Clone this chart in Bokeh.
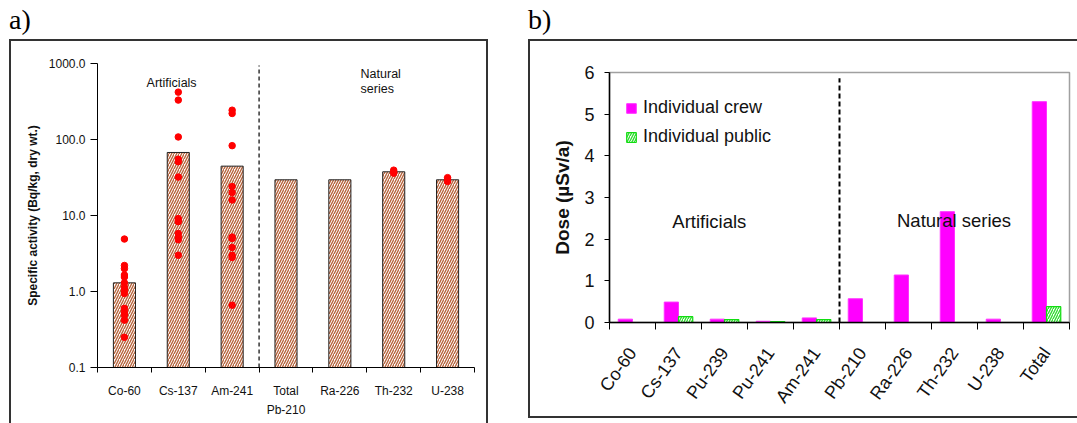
from bokeh.plotting import figure
from bokeh.layouts import row, column
from bokeh.models import Div, Range1d, FixedTicker, NumeralTickFormatter, Legend, LegendItem
from bokeh.core.properties import value
from bokeh.embed import file_html
from bokeh.resources import INLINE

FONT = "Liberation Sans"

# ---- a) specific activity in sediment samples ----
activity_nuclides = ["Co-60", "Cs-137", "Am-241", "Total\nPb-210", "Ra-226", "Th-232", "U-238"]
activity_mean = [1.3, 67.5, 44.6, 29.5, 29.5, 37.6, 29.5]
co60_samples = [4.9, 2.2, 2.0, 1.65, 1.55, 1.3, 1.13, 1.04, 0.94, 0.60, 0.54, 0.49, 0.42, 0.25]
cs137_samples = [420, 330, 108, 55, 51, 32, 9.1, 8.7, 8.3, 5.8, 5.2, 4.8, 3.0]
am241_samples = [243, 220, 83, 24, 20, 16, 5.2, 5.0, 3.8, 3.0, 2.8, 0.66]
th232_samples = [39.5, 37.5, 36.0]
u238_samples = [31.5, 30.0, 28.0]
activity_ticks = [0.1, 1, 10, 100, 1000]

# ---- b) annual dose ----
dose_nuclides = ["Co-60", "Cs-137", "Pu-239", "Pu-241", "Am-241",
                 "Pb-210", "Ra-226", "Th-232", "U-238", "Total"]
dose_crew = [0.08, 0.49, 0.08, 0.03, 0.11, 0.57, 1.14, 2.66, 0.08, 5.3]
dose_public = [0, 0.14, 0.07, 0.02, 0.07, 0, 0, 0, 0, 0.38]
dose_ticks = [0, 1, 2, 3, 4, 5, 6]


def style_axes(p):
    p.xgrid.visible = False
    p.ygrid.visible = False
    for ax in (p.xaxis[0], p.yaxis[0]):
        ax.major_label_text_font = FONT
        ax.axis_label_text_font = FONT
        ax.major_label_text_color = "#111111"
        ax.axis_label_text_color = "#111111"
        ax.axis_line_color = "black"
        ax.major_tick_line_color = "black"
        ax.minor_tick_line_color = "black"
        ax.major_tick_in = 0
        ax.minor_tick_in = 0


# ================= panel a =================
pa = figure(width=479, height=384, x_range=Range1d(0, 7), y_range=Range1d(0.1, 1000),
            y_axis_type="log", output_backend="svg", toolbar_location=None,
            min_border_left=88, min_border_right=14, min_border_top=24, min_border_bottom=56,
            border_fill_color=None, background_fill_color="white", outline_line_color=None,
            margin=(0, 40, 0, 9),
            styles={"box-shadow": "inset 2px 0 0 0 #333333, inset -2px 0 0 0 #333333, inset 0 2px 0 0 #333333"})
style_axes(pa)

xa = [i + 0.5 for i in range(len(activity_nuclides))]
pa.vbar(x=xa, top=activity_mean, bottom=0.1, width=0.41,
        fill_color="white", hatch_pattern="/", hatch_color="#b8643c", hatch_scale=5,
        hatch_weight=1.4, line_color="#222222", line_width=1)

samples = [co60_samples, cs137_samples, am241_samples, [], [], th232_samples, u238_samples]
px, py = [], []
for xc, vals in zip(xa, samples):
    px += [xc] * len(vals)
    py += vals
pa.scatter(x=px, y=py, size=6.5, color="#ff0000", line_color="#ff0000")

pa.segment(x0=[3], y0=[0.1], x1=[3], y1=[940], line_color="black", line_width=1.2, line_dash="4 3")

pa.text(x=[1.376], y=[562], text=["Artificials"], text_align="center", text_baseline="middle",
        text_font=value(FONT), text_font_size="12.5px", text_color="#111111")
pa.text(x=[4.885, 4.885], y=[738, 455], text=["Natural", "series"], text_align="left",
        text_baseline="middle", text_font=value(FONT), text_font_size="12.5px", text_color="#111111")

ya = pa.yaxis[0]
ya.ticker = FixedTicker(ticks=activity_ticks)
ya.formatter = NumeralTickFormatter(format="0.0")
ya.major_tick_out = 7
ya.minor_tick_line_color = None
ya.major_label_text_font_size = "12px"
ya.major_label_standoff = 5
ya.axis_label = "Specific activity (Bq/kg, dry wt.)"
ya.axis_label_text_font_size = "12px"
ya.axis_label_text_font_style = "bold"
ya.axis_label_standoff = 6

xa_ax = pa.xaxis[0]
xa_ax.ticker = FixedTicker(ticks=xa, minor_ticks=list(range(len(activity_nuclides) + 1)))
xa_ax.major_label_overrides = {x: lab for x, lab in zip(xa, activity_nuclides)}
xa_ax.major_tick_out = 0
xa_ax.minor_tick_out = 5
xa_ax.major_label_text_font_size = "12px"
xa_ax.major_label_text_line_height = 1.4
xa_ax.major_label_standoff = 11

# ================= panel b =================
pb = figure(width=549, height=379, x_range=Range1d(0, 10), y_range=Range1d(0, 6),
            output_backend="svg", toolbar_location=None,
            min_border_left=81, min_border_right=8, min_border_top=33, min_border_bottom=96,
            border_fill_color=None, background_fill_color="white",
            outline_line_color="#a0a0a0", outline_line_width=1.5,
            styles={"box-shadow": "inset 2px 0 0 0 #333333, inset 0 2px 0 0 #333333, inset 0 -2px 0 0 #333333"})
style_axes(pb)

xb = [i + 0.5 for i in range(len(dose_nuclides))]
r_crew = pb.vbar(x=[x - 0.155 for x in xb], top=dose_crew, bottom=0, width=0.31,
                 fill_color="#ff00ff", line_color="#ff33ff", line_width=1)
pub_idx = [i for i, v in enumerate(dose_public) if v > 0]
r_pub = pb.vbar(x=[xb[i] + 0.155 for i in pub_idx], top=[dose_public[i] for i in pub_idx], bottom=0,
                width=0.31, fill_color="white", hatch_pattern="/", hatch_color="#33dd33",
                hatch_scale=5, hatch_weight=1.4, line_color="#11dd11", line_width=1.2)

pb.segment(x0=[5], y0=[0], x1=[5], y1=[5.86], line_color="black", line_width=2, line_dash="5 3")

pb.text(x=[2.17], y=[2.42], text=["Artificials"], text_align="center", text_baseline="middle",
        text_font=value(FONT), text_font_size="18.5px", text_color="#111111")
pb.text(x=[7.49], y=[2.45], text=["Natural series"], text_align="center", text_baseline="middle",
        text_font=value(FONT), text_font_size="18.5px", text_color="#111111")

yb = pb.yaxis[0]
yb.ticker = FixedTicker(ticks=dose_ticks)
yb.major_tick_out = 5
yb.minor_tick_line_color = None
yb.major_label_text_font_size = "18px"
yb.major_label_standoff = 10
yb.axis_line_width = 1.5
yb.axis_label = "Dose (µSv/a)"
yb.axis_label_text_font_size = "19px"
yb.axis_label_text_font_style = "bold"
yb.axis_label_standoff = 8

xb_ax = pb.xaxis[0]
xb_ax.ticker = FixedTicker(ticks=xb, minor_ticks=list(range(len(dose_nuclides) + 1)))
xb_ax.major_label_overrides = {x: lab for x, lab in zip(xb, dose_nuclides)}
xb_ax.major_tick_out = 0
xb_ax.minor_tick_out = 7
xb_ax.axis_line_width = 1.5
xb_ax.major_label_text_font_size = "18px"
xb_ax.major_label_orientation = 0.95
xb_ax.major_label_standoff = 20

legend = Legend(items=[LegendItem(label="Individual crew", renderers=[r_crew]),
                       LegendItem(label="Individual public", renderers=[r_pub])],
                location=(16, 175), glyph_width=12, glyph_height=12,
                label_text_font=FONT, label_text_font_size="18px", label_text_color="#111111",
                label_standoff=6, spacing=8, padding=0, margin=0,
                border_line_alpha=0, background_fill_alpha=0)
pb.add_layout(legend)

# ---- panel tags ----
tag_a = Div(text='<div style="font-family:\'Liberation Serif\';font-size:28px;line-height:1;margin:6px 0 0 9px;">a)</div>',
            width=528, height=39, margin=0)
tag_b = Div(text='<div style="font-family:\'Liberation Serif\';font-size:28px;line-height:1;margin:6px 0 0 0;">b)</div>',
            width=549, height=39, margin=0)

layout = row(column(tag_a, pa, spacing=0), column(tag_b, pb, spacing=0), spacing=0)

open("out.html", "w").write(file_html(layout, INLINE))
